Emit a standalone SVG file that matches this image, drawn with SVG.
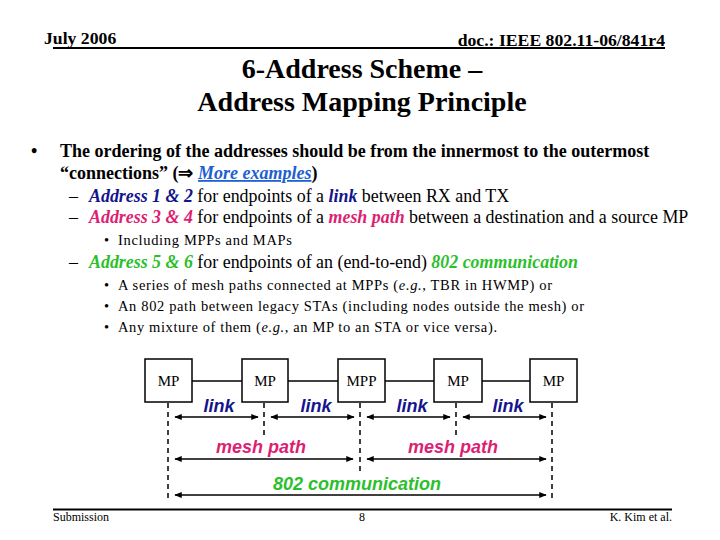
<svg xmlns="http://www.w3.org/2000/svg" width="720" height="540" viewBox="0 0 720 540">
<style>
.hdr{font-family:"Liberation Serif","Times New Roman",serif;font-weight:bold;font-size:17.7px;}
.title{font-family:"Liberation Serif","Times New Roman",serif;font-weight:bold;font-size:28px;text-anchor:middle;}
.b1{font-family:"Liberation Serif","Times New Roman",serif;font-weight:bold;font-size:18px;}
.b2{font-family:"Liberation Serif","Times New Roman",serif;font-size:17.9px;}
.b3{font-family:"Liberation Serif","Times New Roman",serif;font-size:14.5px;}
.bi{font-weight:bold;font-style:italic;}
.blue{fill:#14148c;}
.pink{fill:#dc1f72;}
.green{fill:#2cbf2c;}
.lnk{fill:#2060d0;text-decoration:underline;}
.node rect{fill:#fff;stroke:#000;stroke-width:1.5;}
.node text{font-family:"Liberation Serif","Times New Roman",serif;font-size:15px;text-anchor:middle;}
.lab{font-family:"Liberation Sans",Arial,sans-serif;font-weight:bold;font-style:italic;font-size:18px;text-anchor:middle;}
.foot{font-family:"Liberation Serif","Times New Roman",serif;font-size:12px;}
.dash{stroke:#000;stroke-width:1.5;stroke-dasharray:5,4;fill:none;}
.arr{stroke:#000;stroke-width:1.5;fill:none;marker-start:url(#ah);marker-end:url(#ah);}
.conn{stroke:#000;stroke-width:1.5;fill:none;}
</style>
<defs>
<marker id="ah" viewBox="0 0 10 10" refX="9" refY="5" markerWidth="5" markerHeight="5" orient="auto-start-reverse" markerUnits="strokeWidth">
<path d="M0,1 L10,5 L0,9 Z" fill="#000"/>
</marker>
</defs>
<rect width="720" height="540" fill="#fff"/>
<g id="header">
<text class="hdr" x="44" y="44">July 2006</text>
<text class="hdr" x="665" y="46" text-anchor="end">doc.: IEEE 802.11-06/841r4</text>
<line x1="53" y1="48" x2="665" y2="48" stroke="#000" stroke-width="2"/>
</g>
<g id="title">
<text class="title" x="362" y="78">6-Address Scheme –</text>
<text class="title" x="362" y="111">Address Mapping Principle</text>
</g>
<g id="body">
<text class="b1" x="31" y="157">•</text>
<text class="b1" x="60" y="157">The ordering of the addresses should be from the innermost to the outermost</text>
<text class="b1" x="60" y="179">“connections” (⇒ <tspan class="bi lnk">More examples</tspan>)</text>
<text class="b2" x="69" y="202">–</text>
<text class="b2" x="89" y="202"><tspan class="bi blue">Address 1 &amp; 2</tspan> for endpoints of a <tspan class="bi blue">link</tspan> between RX and TX</text>
<text class="b2" x="69" y="223">–</text>
<text class="b2" x="89" y="223"><tspan class="bi pink">Address 3 &amp; 4</tspan> for endpoints of a <tspan class="bi pink">mesh path</tspan> between a destination and a source MP</text>
<text class="b3" x="104" y="245">•</text>
<text class="b3" x="118" y="245" textLength="174" lengthAdjust="spacing">Including MPPs and MAPs</text>
<text class="b2" x="69" y="268">–</text>
<text class="b2" x="89" y="268"><tspan class="bi green">Address 5 &amp; 6</tspan> for endpoints of an (end-to-end) <tspan class="bi green">802 communication</tspan></text>
<text class="b3" x="104" y="290">•</text>
<text class="b3" x="118" y="290" textLength="434" lengthAdjust="spacing">A series of mesh paths connected at MPPs (<tspan font-style="italic">e.g.</tspan>, TBR in HWMP) or</text>
<text class="b3" x="104" y="311">•</text>
<text class="b3" x="118" y="311" textLength="466" lengthAdjust="spacing">An 802 path between legacy STAs (including nodes outside the mesh) or</text>
<text class="b3" x="104" y="332">•</text>
<text class="b3" x="118" y="332" textLength="379" lengthAdjust="spacing">Any mixture of them (<tspan font-style="italic">e.g.</tspan>, an MP to an STA or vice versa).</text>
</g>
<g id="connectors">
<line class="conn" x1="192" y1="381" x2="242" y2="381"/>
<line class="conn" x1="288" y1="381" x2="338" y2="381"/>
<line class="conn" x1="385" y1="381" x2="434" y2="381"/>
<line class="conn" x1="482" y1="381" x2="530" y2="381"/>
<line class="dash" x1="168" y1="403" x2="168" y2="500"/>
<line class="dash" x1="264" y1="403" x2="264" y2="435"/>
<line class="dash" x1="360" y1="403" x2="360" y2="472"/>
<line class="dash" x1="456" y1="403" x2="456" y2="435"/>
<line class="dash" x1="552" y1="403" x2="552" y2="500"/>
<line class="arr" x1="175" y1="417" x2="258" y2="417"/>
<line class="arr" x1="271" y1="417" x2="354" y2="417"/>
<line class="arr" x1="367" y1="417" x2="450" y2="417"/>
<line class="arr" x1="463" y1="417" x2="546" y2="417"/>
<line class="arr" x1="175" y1="459" x2="353" y2="459"/>
<line class="arr" x1="367" y1="459" x2="546" y2="459"/>
<line class="arr" x1="175" y1="495" x2="546" y2="495"/>
<text class="lab blue" x="219" y="412">link</text>
<text class="lab blue" x="316" y="412">link</text>
<text class="lab blue" x="412" y="412">link</text>
<text class="lab blue" x="508" y="412">link</text>
<text class="lab pink" x="261" y="453">mesh path</text>
<text class="lab pink" x="453" y="453">mesh path</text>
<text class="lab green" x="357" y="490">802 communication</text>
</g>
<g id="n1" class="node"><rect x="145" y="359" width="47" height="43"/><text x="168.5" y="386">MP</text></g>
<g id="n2" class="node"><rect x="242" y="359" width="46" height="43"/><text x="265" y="386">MP</text></g>
<g id="n3" class="node"><rect x="338" y="359" width="47" height="43"/><text x="361.5" y="386">MPP</text></g>
<g id="n4" class="node"><rect x="434" y="359" width="48" height="43"/><text x="458" y="386">MP</text></g>
<g id="n5" class="node"><rect x="530" y="359" width="47" height="43"/><text x="553.5" y="386">MP</text></g>
<g id="footer">
<line x1="53" y1="509.5" x2="672" y2="509.5" stroke="#000" stroke-width="2"/>
<text class="foot" x="53" y="521">Submission</text>
<text class="foot" x="362" y="521" text-anchor="middle">8</text>
<text class="foot" x="672" y="521" text-anchor="end">K. Kim et al.</text>
</g>
</svg>
